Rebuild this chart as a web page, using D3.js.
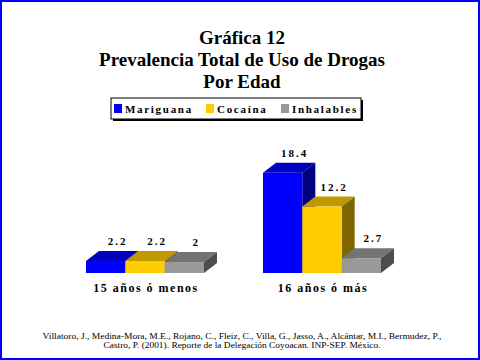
<!DOCTYPE html>
<html><head><meta charset="utf-8">
<script src="https://cdn.jsdelivr.net/npm/d3@7"></script>
<style>html,body{margin:0;padding:0;background:#fff;}svg{display:block;}</style>
</head><body>
<script>
const titleLines = ["Gráfica 12", "Prevalencia Total de Uso de Drogas", "Por Edad"];
const categories = ["15 años ó menos", "16 años ó más"];
const series = ["Mariguana", "Cocaína", "Inhalables"];
const mariguana = [2.2, 18.4];
const cocaina = [2.2, 12.2];
const inhalables = [2, 2.7];
const footer = ["Villatoro, J., Medina-Mora, M.E., Rojano, C., Fleiz, C., Villa, G., Jasso, A., Alcántar, M.I., Bermudez, P.,",
                "Castro, P. (2001). Reporte de la Delegación Coyoacan. INP-SEP. México."];
const colors = {
  "Mariguana": {front:"#0000ff", top:"#0000c0", side:"#000080"},
  "Cocaína": {front:"#ffcc00", top:"#bf9900", side:"#806600"},
  "Inhalables": {front:"#999999", top:"#737373", side:"#4d4d4d"}
};
const values = [mariguana, cocaina, inhalables];

const W = 480, H = 360;
const svg = d3.select("body").append("svg").attr("width", W).attr("height", H);
svg.append("rect").attr("x",1).attr("y",1).attr("width",W-2).attr("height",H-2)
  .attr("fill","#fff").attr("stroke","#0000ff").attr("stroke-width",2);

const serif = "'Liberation Serif','Times New Roman',Times,serif";
// title
svg.append("g").selectAll("text").data(titleLines).join("text")
  .attr("x", 242).attr("y", (d,i)=>44 + i*22)
  .attr("text-anchor","middle").attr("font-family",serif).attr("font-weight","bold")
  .attr("font-size",19).text(d=>d);

// legend
const lg = svg.append("g");
lg.append("rect").attr("x",113).attr("y",100).attr("width",250).attr("height",21).attr("fill","#000");
lg.append("rect").attr("x",111).attr("y",98).attr("width",250).attr("height",21).attr("fill","#fff").attr("stroke","#000").attr("stroke-width",1);
const legX = [114, 206, 281];
series.forEach((s,i)=>{
  lg.append("rect").attr("x",legX[i]).attr("y",104).attr("width",8).attr("height",9).attr("fill",colors[s].front);
  lg.append("text").attr("x",legX[i]+11).attr("y",113).attr("font-family",serif).attr("font-weight","bold")
    .attr("font-size",11).attr("letter-spacing",1.7).text(s);
});

// scales
const x0 = d3.scaleBand().domain(categories).range([56.5, 410.5]).paddingInner(1/3).paddingOuter(1/6);
const x1 = d3.scaleBand().domain(series).range([0, x0.bandwidth()]);
const y = d3.scaleLinear().domain([0, 20]).range([273, 164]);
const dx = 13, dy = 10;

const bars = [];
categories.forEach((c,ci)=>{
  series.forEach((s,si)=>{
    bars.push({cat:c, ser:s, v:values[si][ci]});
  });
});

const g = svg.append("g");
bars.forEach(b=>{
  const xl = x0(b.cat) + x1(b.ser), xr = xl + x1.bandwidth();
  const yt = y(b.v), yb = y(0);
  const col = colors[b.ser];
  g.append("path").attr("d", `M${xl},${yt}L${xl+dx},${yt-dy}L${xr+dx},${yt-dy}L${xr},${yt}Z`).attr("fill", col.top);
  g.append("path").attr("d", `M${xr},${yt}L${xr+dx},${yt-dy}L${xr+dx},${yb-dy}L${xr},${yb}Z`).attr("fill", col.side);
  g.append("rect").attr("x", xl).attr("y", yt).attr("width", xr-xl).attr("height", yb-yt).attr("fill", col.front);
  g.append("text").attr("x", (xl+xr)/2 + 12).attr("y", yt - dy - 6)
    .attr("text-anchor","middle").attr("font-family",serif).attr("font-weight","bold")
    .attr("font-size",11).attr("letter-spacing",2).text(b.v);
});

// category labels
svg.append("g").selectAll("text").data(categories).join("text")
  .attr("x", d=>x0(d)+x0.bandwidth()/2 + 1).attr("y", 292)
  .attr("text-anchor","middle").attr("font-family",serif).attr("font-weight","bold")
  .attr("font-size",12).attr("letter-spacing",1.5).text(d=>d);

// footer
const footLen = [399, 277];
svg.append("g").selectAll("text").data(footer).join("text")
  .attr("x", 242).attr("y", (d,i)=>339 + i*9)
  .attr("text-anchor","middle").attr("font-family",serif)
  .attr("font-size",9).attr("textLength",(d,i)=>footLen[i]).attr("lengthAdjust","spacingAndGlyphs").text(d=>d);
</script>
</body></html>
